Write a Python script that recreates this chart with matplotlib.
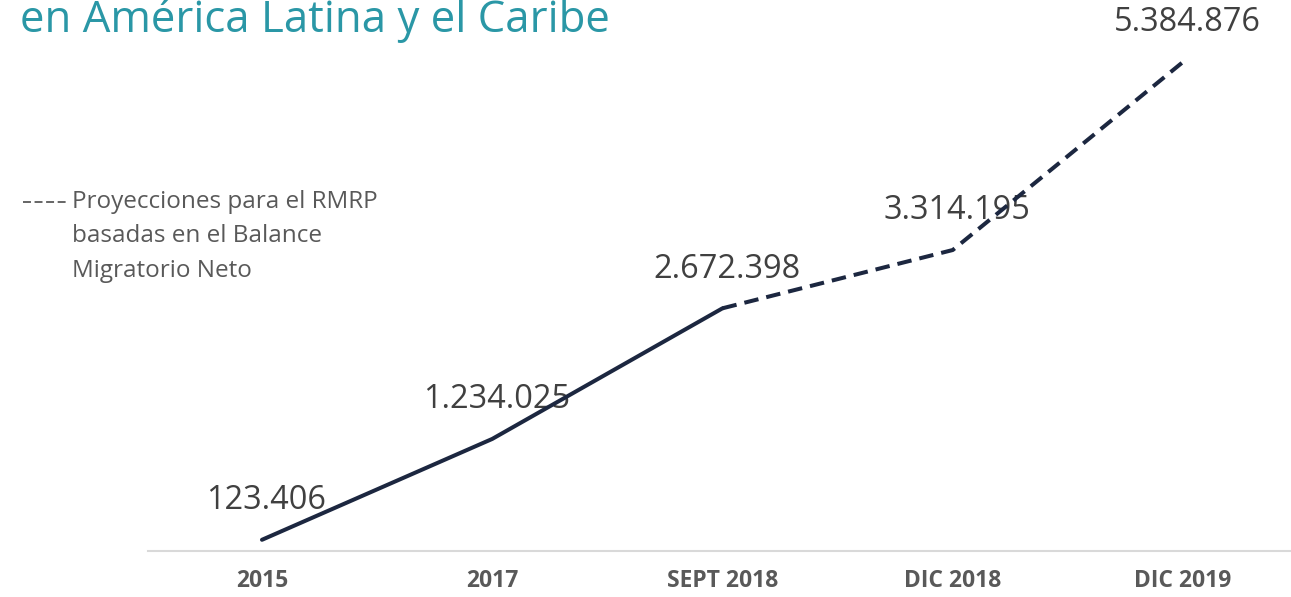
import matplotlib.pyplot as plt
from matplotlib.lines import Line2D

periods = ["2015", "2017", "SEPT 2018", "DIC 2018", "DIC 2019"]
values = [123406, 1234025, 2672398, 3314195, 5384876]
last_observed = 2  # SEPT 2018: the rest are projections

title = "en América Latina y el Caribe"
note = ["Proyecciones para el RMRP", "basadas en el Balance", "Migratorio Neto"]

NAVY = "#1c2740"
GREY = "#595959"
TEAL = "#2a97a6"

fig = plt.figure(figsize=(12.91, 5.97), dpi=100)
ax = fig.add_axes([148 / 1291, 1 - 551 / 597, 1 - 148 / 1291, 551 / 597])

x = list(range(len(periods)))
ax.plot(x[:last_observed + 1], values[:last_observed + 1], color=NAVY, lw=2.9,
        solid_capstyle="round", zorder=3)
ax.plot(x[last_observed:], values[last_observed:], color=NAVY, lw=2.9,
        linestyle=(0, (3.6, 2.0)), dash_capstyle="butt", zorder=3)

for xi, v in zip(x, values):
    ax.annotate(f"{v:,}".replace(",", "."), (xi, v), xytext=(3, 22),
                textcoords="offset points", ha="center", va="baseline",
                fontsize=23.4, family="Open Sans", color="#404040", zorder=2)

ax.set_xlim(-0.495, 4.469)
ax.set_ylim(0, 6.067e6)
ax.set_xticks(x)
ax.set_xticklabels(periods, fontsize=16.5, fontweight="bold", family="Open Sans",
                   color=GREY)
ax.tick_params(axis="x", length=0, pad=13)
ax.set_yticks([])
for side in ["left", "right", "top"]:
    ax.spines[side].set_visible(False)
ax.spines["bottom"].set_color("#d9d9d9")
ax.spines["bottom"].set_linewidth(1.5)

# projection note on the left
fig.add_artist(Line2D([23 / 1291, 67 / 1291], [1 - 202 / 597] * 2, color=GREY,
                      lw=1.3, dashes=(4.4, 2.0), transform=fig.transFigure))
for i, line in enumerate(note):
    fig.text(72 / 1291, 1 - (208 + 34.5 * i) / 597, line, fontsize=17.5,
             family="Open Sans", color=GREY, va="baseline")

# title, cut off at the top of the image
fig.text(20 / 1291, 1 - 32 / 597, title, fontsize=31.5, family="Open Sans",
         color=TEAL, va="baseline")

fig.savefig("out.png", dpi=100)
